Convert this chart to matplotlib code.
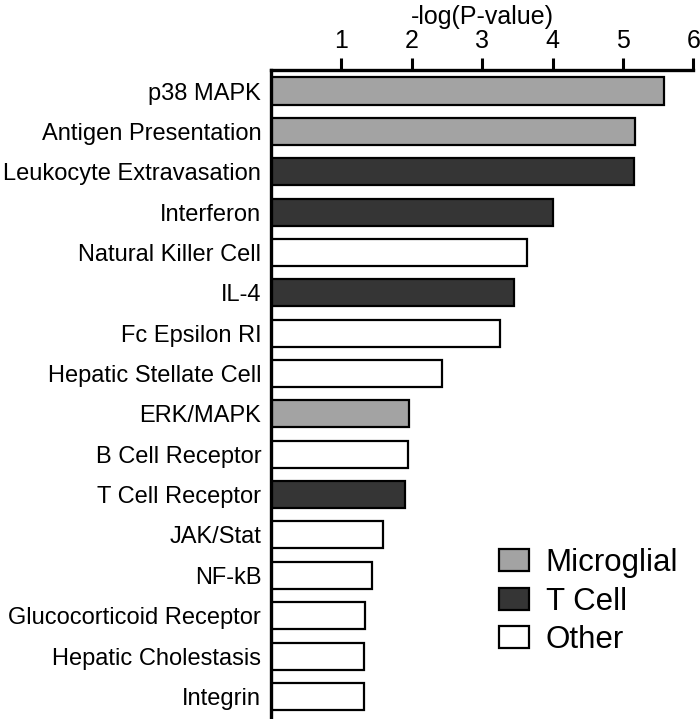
import numpy as np
import matplotlib.pyplot as plt
from matplotlib.patches import Patch

plt.rcParams['font.family'] = ['Liberation Sans', 'DejaVu Sans']

pathways = ['p38 MAPK', 'Antigen Presentation', 'Leukocyte Extravasation',
            'Interferon', 'Natural Killer Cell', 'IL-4', 'Fc Epsilon RI',
            'Hepatic Stellate Cell', 'ERK/MAPK', 'B Cell Receptor',
            'T Cell Receptor', 'JAK/Stat', 'NF-kB', 'Glucocorticoid Receptor',
            'Hepatic Cholestasis', 'Integrin']
logp = [5.59, 5.17, 5.16, 4.00, 3.64, 3.45, 3.26, 2.43, 1.96, 1.94,
        1.91, 1.59, 1.44, 1.33, 1.32, 1.32]
group = ['Microglial', 'Microglial', 'T Cell', 'T Cell', 'Other', 'T Cell',
         'Other', 'Other', 'Microglial', 'Other', 'T Cell', 'Other', 'Other',
         'Other', 'Other', 'Other']
group_names = ['Microglial', 'T Cell', 'Other']

colors = {'Microglial': '#a3a3a3', 'T Cell': '#353535', 'Other': 'white'}

fig = plt.figure(figsize=(7, 7.19), dpi=100)
ax = fig.add_axes([0.3871, 0.0, 0.6033, 0.9026])

y = np.arange(len(pathways))
ax.barh(y, logp, height=0.67, color=[colors[g] for g in group],
        edgecolor='black', linewidth=1.6)

ax.set_xlim(0, 6)
ax.set_ylim(15.56, -0.52)
ax.set_yticks(y)
ax.set_yticklabels(pathways, fontsize=17)
ax.tick_params(axis='y', length=0, pad=7)

ax.xaxis.tick_top()
ax.xaxis.set_label_position('top')
ax.set_xticks([1, 2, 3, 4, 5, 6])
ax.tick_params(axis='x', labelsize=18, length=9, width=2.2, pad=3)
ax.set_xlabel('-log(P-value)', fontsize=18, labelpad=4)

for s in ['right', 'bottom']:
    ax.spines[s].set_visible(False)
for s in ['left', 'top']:
    ax.spines[s].set_linewidth(2.4)

handles = [Patch(facecolor=colors[g], edgecolor='black', linewidth=1.6) for g in group_names]
fig.legend(handles, group_names, loc='center left', bbox_to_anchor=(0.695, 0.163),
           frameon=False, fontsize=22.5, handlelength=0.95, handleheight=0.7,
           handletextpad=0.55, labelspacing=0.27, borderaxespad=0)

fig.savefig('out.png', dpi=100)
